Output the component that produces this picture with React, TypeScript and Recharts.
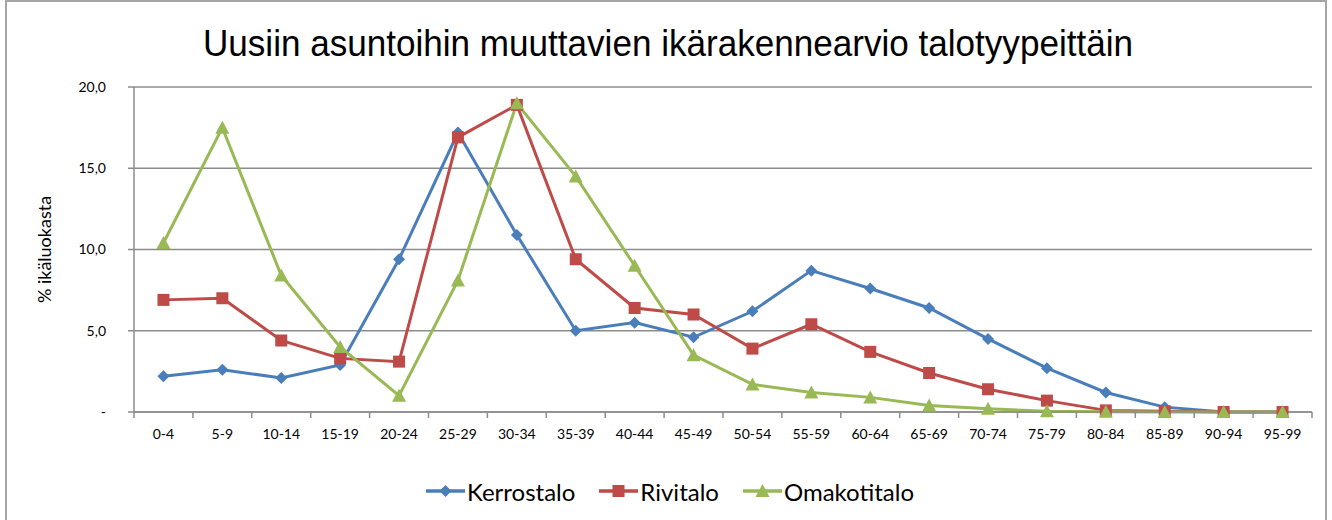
import { CartesianGrid, Legend, Line, LineChart, XAxis, YAxis } from "recharts";

const ageGroups = ["0-4", "5-9", "10-14", "15-19", "20-24", "25-29", "30-34", "35-39", "40-44", "45-49",
    "50-54", "55-59", "60-64", "65-69", "70-74", "75-79", "80-84", "85-89", "90-94", "95-99"];

const kerrostalo = [2.2, 2.6, 2.1, 2.9, 9.4, 17.2, 10.9, 5.0, 5.5, 4.6, 6.2, 8.7, 7.6, 6.4, 4.5, 2.7, 1.2, 0.3, 0, 0];
const rivitalo = [6.9, 7.0, 4.4, 3.3, 3.1, 16.9, 18.9, 9.4, 6.4, 6.0, 3.9, 5.4, 3.7, 2.4, 1.4, 0.7, 0.1, 0.05, 0, 0];
const omakotitalo = [10.4, 17.5, 8.4, 4.0, 1.0, 8.1, 19.0, 14.5, 9.0, 3.5, 1.7, 1.2, 0.9, 0.4, 0.2, 0.05, 0.02, 0, 0, 0];

const yTicks = [0, 5, 10, 15, 20];

const seriesInfo = [
    { key: "kerrostalo", name: "Kerrostalo", color: "#4a7ebb", shape: "diamond" },
    { key: "rivitalo", name: "Rivitalo", color: "#be4b48", shape: "square" },
    { key: "omakotitalo", name: "Omakotitalo", color: "#98b954", shape: "triangle" },
];

const data = ageGroups.map((age, i) => ({
    age,
    kerrostalo: kerrostalo[i],
    rivitalo: rivitalo[i],
    omakotitalo: omakotitalo[i],
}));

const FONT = "Lato, 'Liberation Sans', sans-serif";
const GRID = "#8c8c8c";

function Marker({ shape, cx, cy, color }: { shape: string, cx: number, cy: number, color: string }) {
    if (cx == null || cy == null) return null;
    if (shape === "diamond") {
        const r = 6;
        return <polygon points={`${cx},${cy - r} ${cx + r},${cy} ${cx},${cy + r} ${cx - r},${cy}`} fill={color} />;
    }
    if (shape === "square") {
        const s = 6;
        return <rect x={cx - s} y={cy - s} width={2 * s} height={2 * s} fill={color} />;
    }
    const r = 7;
    return <polygon points={`${cx},${cy - r} ${cx + r},${cy + r - 1} ${cx - r},${cy + r - 1}`} fill={color} />;
}

function XTick(props: any) {
    const { x, y, payload, index, visibleTicksCount } = props;
    const off = payload?.offset || 29.45;
    return (
        <g>
            <line x1={x - off} x2={x - off} y1={y} y2={y + 6} stroke={GRID} strokeWidth={1.5} />
            {index === visibleTicksCount - 1 && (
                <line x1={x + off} x2={x + off} y1={y} y2={y + 6} stroke={GRID} strokeWidth={1.5} />
            )}
            <text x={x} y={y + 27} textAnchor="middle" fontSize={14} fontFamily={FONT} fill="#000">
                {payload.value}
            </text>
        </g>
    );
}

function LegendContent() {
    return (
        <div style={{ display: "flex", justifyContent: "center", alignItems: "center", fontFamily: FONT, fontSize: 24, height: 30, paddingLeft: 28 }}>
            {seriesInfo.map(s => (
                <div key={s.key} style={{ display: "flex", alignItems: "center", margin: "0 12px" }}>
                    <svg width={39} height={20}>
                        <line x1={0} x2={39} y1={10} y2={10} stroke={s.color} strokeWidth={3.5} />
                        <Marker shape={s.shape} cx={19.5} cy={10} color={s.color} />
                    </svg>
                    <span style={{ marginLeft: 2 }}>{s.name}</span>
                </div>
            ))}
        </div>
    );
}

export default function App() {
    return (
        <div style={{ position: "absolute", left: 0, top: 0, width: 1332, height: 520, background: "#fff", overflow: "hidden" }}>
            <div style={{ position: "absolute", left: 5, top: 0, width: 1322, height: 540, border: "2px solid #a6a6a6", boxSizing: "border-box" }} />
            <div style={{ position: "absolute", left: 0, top: 0 }}>
                <LineChart width={1332} height={520} data={data}
                    margin={{ top: 87, right: 20, left: 0, bottom: 38 }}>
                    <text x={668} y={56} textAnchor="middle" fontSize={37}
                        fontFamily="'Liberation Sans Narrow', 'Liberation Sans', sans-serif"
                        textLength={930} lengthAdjust="spacingAndGlyphs" fill="#000">
                        Uusiin asuntoihin muuttavien ikärakennearvio talotyypeittäin
                    </text>
                    <CartesianGrid vertical={false} stroke={GRID} strokeWidth={1.5} />
                    <XAxis dataKey="age" scale="band" height={40} tickSize={0} tickMargin={0} tickLine={false}
                        stroke={GRID} strokeWidth={1.5} tick={<XTick />} interval={0} />
                    <YAxis width={134} domain={[0, 20]} ticks={yTicks} tickSize={6} tickMargin={22}
                        stroke={GRID} strokeWidth={1.5}
                        tick={{ fontSize: 14, fontFamily: FONT, fill: "#000" }}
                        tickFormatter={(v: number) => v === 0 ? "-" : v.toFixed(1).replace(".", ",")}
                        label={{ value: "% ikäluokasta", angle: -90, position: "center", dx: -22, fontSize: 18, fontFamily: FONT, fill: "#000" }} />
                    <Legend verticalAlign="bottom" height={30} content={<LegendContent />}
                        wrapperStyle={{ bottom: 14 }} />
                    {seriesInfo.map(s => (
                        <Line key={s.key} type="linear" dataKey={s.key} name={s.name} stroke={s.color}
                            strokeWidth={3} isAnimationActive={false} activeDot={false}
                            dot={(p: any) => <Marker key={`${s.key}-${p.index}`} shape={s.shape} cx={p.cx} cy={p.cy} color={s.color} />} />
                    ))}
                </LineChart>
            </div>
        </div>
    );
}
